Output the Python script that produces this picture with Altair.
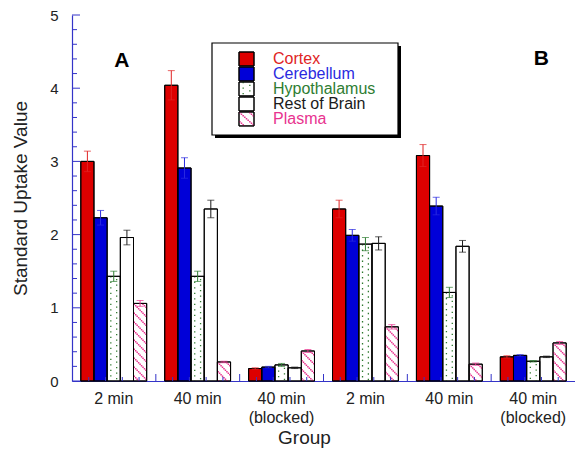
import altair as alt
import pandas as pd

# ---------------- data ----------------
groups = ["A|2 min", "A|40 min", "A|40 min|(blocked)",
          "B|2 min", "B|40 min", "B|40 min|(blocked)"]
tissues = ["Cortex", "Cerebellum", "Hypothalamus", "Rest of Brain", "Plasma"]

cortex           = [3.00, 4.04, 0.17, 2.35, 3.08, 0.33]
cortex_err       = [0.14, 0.20, 0.01, 0.12, 0.15, 0.015]
cerebellum       = [2.23, 2.91, 0.19, 1.99, 2.39, 0.35]
cerebellum_err   = [0.10, 0.14, 0.01, 0.08, 0.12, 0.01]
hypothalamus     = [1.43, 1.43, 0.22, 1.87, 1.21, 0.27]
hypothalamus_err = [0.07, 0.07, 0.02, 0.09, 0.07, 0.01]
rest_of_brain    = [1.96, 2.35, 0.18, 1.88, 1.84, 0.33]
rest_err         = [0.10, 0.12, 0.01, 0.09, 0.08, 0.01]
plasma           = [1.06, 0.26, 0.41, 0.74, 0.23, 0.52]
plasma_err       = [0.04, 0.01, 0.02, 0.03, 0.015, 0.02]

panels = ["A", "B"]
panel_groups = ["A|2 min", "B|40 min|(blocked)"]
panel_y = [4.37, 4.40]

y_major = [0, 1, 2, 3, 4, 5]
x_major = [1, 2, 3, 4, 5]

# ---------------- styles ----------------
FONT = "Liberation Sans"
AXIS_BLUE = "#3434c8"
fill_colors = ["#dd0000", "#0000d8", "#ffffff", "#ffffff", "#ffffff"]
line_colors = ["#e02424", "#2a2ae0", "#2e7d32", "#1a1a1a", "#e8338f"]
HATCH = "#e8338f"
DOTS = "#2f7a2f"

W, H = 503, 366

series = {
    "Cortex": (cortex, cortex_err),
    "Cerebellum": (cerebellum, cerebellum_err),
    "Hypothalamus": (hypothalamus, hypothalamus_err),
    "Rest of Brain": (rest_of_brain, rest_err),
    "Plasma": (plasma, plasma_err),
}
rows = []
for t in tissues:
    vals, errs = series[t]
    for g, v, e in zip(groups, vals, errs):
        rows.append({"group": g, "tissue": t, "value": v, "lo": v - e, "hi": v + e})
df = pd.DataFrame(rows)

# pattern columns (9 thin sub-columns per bar)
NCOL = 9
slots = [f"{t}|{k}" for t in tissues for k in range(NCOL)]
dash_keys = [f"h{k}" for k in range(NCOL)] + ["d0", "d1"]
PER = 9.0
dash_range = []
for k in range(NCOL):
    p = (1.5 * k) % PER
    dash_range.append([0, p, 1.5, PER - 1.5 - p])
dash_range.append([1.3, 4.2])
dash_range.append([0, 2.75, 1.3, 1.45])
dash_scale = alt.Scale(domain=dash_keys, range=dash_range)

pat_rows = []
for r in rows:
    if r["tissue"] == "Plasma":
        for k in range(NCOL):
            pat_rows.append({"group": r["group"], "slot": f"Plasma|{k}", "dash": f"h{k}",
                             "value": r["value"], "kind": "hatch"})
    if r["tissue"] == "Hypothalamus":
        for i, k in enumerate([2, 6]):
            pat_rows.append({"group": r["group"], "slot": f"Hypothalamus|{k}", "dash": f"d{i}",
                             "value": r["value"], "kind": "dots"})
pat = pd.DataFrame(pat_rows)

x_scale = alt.Scale(domain=groups, paddingInner=0.215, paddingOuter=0.105)
y_scale = alt.Scale(domain=[0, 5], nice=False, zero=True)

x_enc = alt.X(
    "group:N", scale=x_scale, sort=groups,
    axis=alt.Axis(
        title="Group", labelExpr="slice(split(datum.value, '|'), 1)",
        labelAngle=0, labelFont=FONT, labelFontSize=16, labelColor="#222",
        labelPadding=9, labelLineHeight=19, ticks=False,
        domainColor=AXIS_BLUE, domainWidth=1.2,
        titleFont=FONT, titleFontSize=19, titleFontWeight="normal", titleColor="#222",
        titleX=232, titleY=47,
    ),
)
y_enc = alt.Y(
    "value:Q", scale=y_scale,
    axis=alt.Axis(
        title="Standard Uptake Value", values=y_major, format="d",
        labelFont=FONT, labelFontSize=15, labelColor="#222", labelPadding=14,
        ticks=False, domainColor=AXIS_BLUE, domainWidth=1.2,
        titleFont=FONT, titleFontSize=19, titleFontWeight="normal", titleColor="#222",
        titleX=-46, titleBaseline="alphabetic",
    ),
)
xo_tissue = alt.XOffset("tissue:N", scale=alt.Scale(domain=tissues), sort=tissues)

base = alt.Chart(df)

bars_fill = base.mark_bar(stroke="black", strokeWidth=1).encode(
    x=x_enc, y=y_enc, xOffset=xo_tissue,
    fill=alt.Fill("tissue:N", scale=alt.Scale(domain=tissues, range=fill_colors), legend=None),
)

pbase = alt.Chart(pat)
hatch = pbase.transform_filter(alt.datum.kind == "hatch").mark_rule(
    color=HATCH, strokeWidth=1.5
).encode(
    x=alt.X("group:N", scale=x_scale, sort=groups),
    xOffset=alt.XOffset("slot:N", scale=alt.Scale(domain=slots), sort=slots),
    y=alt.Y("value:Q", scale=y_scale), y2=alt.datum(0),
    strokeDash=alt.StrokeDash("dash:N", scale=dash_scale, legend=None),
)
dots = pbase.transform_filter(alt.datum.kind == "dots").mark_rule(
    color=DOTS, strokeWidth=1.3
).encode(
    x=alt.X("group:N", scale=x_scale, sort=groups),
    xOffset=alt.XOffset("slot:N", scale=alt.Scale(domain=slots), sort=slots),
    y=alt.Y("value:Q", scale=y_scale), y2=alt.datum(0),
    strokeDash=alt.StrokeDash("dash:N", scale=dash_scale, legend=None),
)
patterns = alt.layer(hatch, dots)

outline = base.mark_bar(fillOpacity=0, stroke="black", strokeWidth=1).encode(
    x=alt.X("group:N", scale=x_scale, sort=groups),
    y=alt.Y("value:Q", scale=y_scale), xOffset=xo_tissue,
)
err_color = alt.Color("tissue:N", scale=alt.Scale(domain=tissues, range=line_colors), legend=None)
err_rule = base.mark_rule(strokeWidth=1).encode(
    x=alt.X("group:N", scale=x_scale, sort=groups), xOffset=xo_tissue,
    y=alt.Y("lo:Q", scale=y_scale), y2="hi:Q", color=err_color,
)
cap_lo = base.mark_tick(size=7, thickness=1, orient="horizontal").encode(
    x=alt.X("group:N", scale=x_scale, sort=groups), xOffset=xo_tissue,
    y=alt.Y("lo:Q", scale=y_scale), color=err_color,
)
cap_hi = base.mark_tick(size=7, thickness=1, orient="horizontal").encode(
    x=alt.X("group:N", scale=x_scale, sort=groups), xOffset=xo_tissue,
    y=alt.Y("hi:Q", scale=y_scale), color=err_color,
)
annot = alt.Chart(pd.DataFrame({"panel": panels, "group": panel_groups, "value": panel_y})).mark_text(
    font=FONT, fontSize=21, fontWeight="bold", color="black", dx=8, baseline="middle"
).encode(
    x=alt.X("group:N", scale=x_scale, sort=groups),
    y=alt.Y("value:Q", scale=y_scale), text="panel:N",
)
top_layer = alt.layer(outline, err_rule, cap_lo, cap_hi, annot)

grouped = alt.layer(bars_fill, patterns, top_layer).resolve_scale(xOffset="independent")

# ---------------- inward axis ticks ----------------
x_minor = [i / 5 for i in range(31) if i % 5]
y_minor = [i / 5 for i in range(26) if i % 5]
xq = alt.Scale(domain=[0, 6], nice=False, zero=False)
xt_major = alt.Chart(pd.DataFrame({"t": x_major})).mark_rule(color=AXIS_BLUE, strokeWidth=1).encode(
    x=alt.X("t:Q", scale=xq, axis=None), y=alt.value(H), y2=alt.value(H - 7))
xt_minor = alt.Chart(pd.DataFrame({"t": x_minor})).mark_rule(color=AXIS_BLUE, strokeWidth=1).encode(
    x=alt.X("t:Q", scale=xq, axis=None), y=alt.value(H), y2=alt.value(H - 4))
yt_major = alt.Chart(pd.DataFrame({"t": y_major})).mark_rule(color=AXIS_BLUE, strokeWidth=1).encode(
    y=alt.Y("t:Q", scale=y_scale, axis=None), x=alt.value(0), x2=alt.value(8))
yt_minor = alt.Chart(pd.DataFrame({"t": y_minor})).mark_rule(color=AXIS_BLUE, strokeWidth=1).encode(
    y=alt.Y("t:Q", scale=y_scale, axis=None), x=alt.value(0), x2=alt.value(5))

# ---------------- hand-drawn legend box ----------------
box = pd.DataFrame({"b": [0]})
shadow = alt.Chart(box).mark_rect(color="black").encode(
    x=alt.value(143), x2=alt.value(329), y=alt.value(31), y2=alt.value(123))
frame = alt.Chart(box).mark_rect(fill="white", stroke="black", strokeWidth=1.2).encode(
    x=alt.value(140), x2=alt.value(326), y=alt.value(28), y2=alt.value(120))

leg_df = pd.DataFrame({"tissue": tissues, "row": list(range(len(tissues)))})
ly = alt.Scale(domain=[0, 5], range=[37, 112], nice=False, zero=False)
lbase = alt.Chart(leg_df).transform_calculate(
    row_end="datum.row + 0.93", row_mid="datum.row + 0.45")
sw = lbase.mark_rect(stroke="black", strokeWidth=1).encode(
    x=alt.value(167), x2=alt.value(182),
    y=alt.Y("row:Q", scale=ly, axis=None), y2="row_end:Q",
    fill=alt.Fill("tissue:N", scale=alt.Scale(domain=tissues, range=fill_colors), legend=None),
)
ltext = lbase.mark_text(font=FONT, fontSize=16, align="left", baseline="middle").encode(
    x=alt.value(201), y=alt.Y("row_mid:Q", scale=ly, axis=None), text="tissue:N", color=err_color,
)
lpat_rows = []
for k in range(NCOL):
    lpat_rows.append({"k": k, "row": tissues.index("Plasma"), "dash": f"h{k}", "kind": "hatch"})
for i, k in enumerate([2, 6]):
    lpat_rows.append({"k": k, "row": tissues.index("Hypothalamus"), "dash": f"d{i}", "kind": "dots"})
lpbase = alt.Chart(pd.DataFrame(lpat_rows)).transform_calculate(row_end="datum.row + 0.93")
lx = alt.Scale(type="band", domain=list(range(NCOL)), range=[167, 182], paddingInner=0, paddingOuter=0)
lhatch = lpbase.transform_filter(alt.datum.kind == "hatch").mark_rule(color=HATCH, strokeWidth=1.5).encode(
    x=alt.X("k:O", scale=lx, axis=None, bandPosition=0.5),
    y=alt.Y("row:Q", scale=ly, axis=None), y2="row_end:Q",
    strokeDash=alt.StrokeDash("dash:N", scale=dash_scale, legend=None),
)
ldots = lpbase.transform_filter(alt.datum.kind == "dots").mark_rule(color=DOTS, strokeWidth=1.3).encode(
    x=alt.X("k:O", scale=lx, axis=None, bandPosition=0.5),
    y=alt.Y("row:Q", scale=ly, axis=None), y2="row_end:Q",
    strokeDash=alt.StrokeDash("dash:N", scale=dash_scale, legend=None),
)
lborder = lbase.mark_rect(fillOpacity=0, stroke="black", strokeWidth=1).encode(
    x=alt.value(167), x2=alt.value(182),
    y=alt.Y("row:Q", scale=ly, axis=None), y2="row_end:Q",
)
legend = alt.layer(shadow, frame, sw, lhatch, ldots, lborder, ltext)

chart = alt.layer(
    grouped, xt_major, xt_minor, yt_major, yt_minor, legend
).resolve_scale(x="independent", y="independent").properties(
    width=W, height=H,
    autosize=alt.AutoSizeParams(type="none"),
    padding={"left": 64, "top": 7, "right": 0, "bottom": 68},
).configure_view(stroke=None).configure_axis(grid=False)

chart.save("out.html", embed_options={"renderer": "svg", "actions": False})
